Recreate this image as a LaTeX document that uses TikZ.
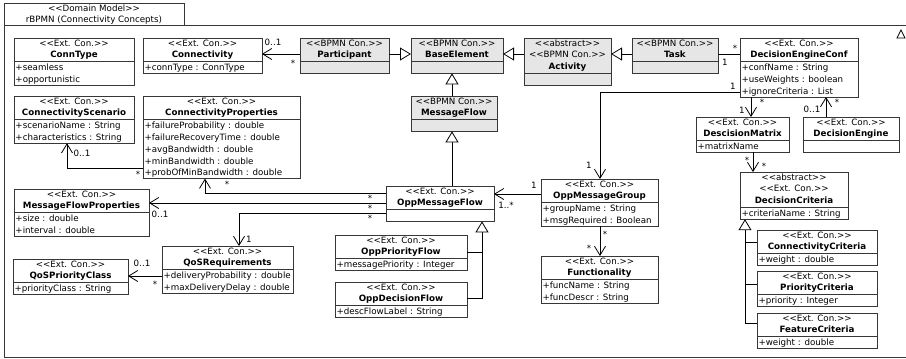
\documentclass[tikz,border=0pt]{standalone}
\usepackage{fontspec}
\newfontfamily\umlfont{DejaVu Sans}
\usetikzlibrary{arrows.meta}
\definecolor{bpmn}{RGB}{230,230,230}
\definecolor{boxline}{RGB}{55,55,55}

\tikzset{
  txt/.style={inner sep=0pt, outer sep=0pt, text=black,
    font=\umlfont\fontsize{8.7}{11.8}\selectfont},
  classbox/.style={draw=boxline, line width=1pt, rectangle, inner sep=0pt, outer sep=0pt},
  classsep/.style={draw=boxline, line width=1pt},
  frameline/.style={draw=boxline, line width=1pt},
  conn/.style={draw=black, line width=0.8pt},
  assoc/.style={conn, -{Straight Barb[length=9pt, width=11pt, line width=0.8pt]}},
  gen/.style={conn, -{Triangle[length=11pt, width=13pt, fill=white, line width=0.8pt]}},
  mlabel/.style={txt, anchor=center}
}

% \umlclass{name}{x}{top}{width}{fill}{#header lines}{#attribute lines}{header}{attributes}
\newcommand\umlclass[9]{%
  \pgfmathsetmacro\hh{11.8*#6}%
  \pgfmathsetmacro\ah{11.8*max(#7,1)}%
  \pgfmathsetmacro\th{\hh+\ah}%
  \node[classbox, fill=#5, minimum width=#4pt, minimum height=\th pt, anchor=north west] (#1) at (#2,#3) {};
  \draw[classsep] (#2,#3+\hh) -- ++(#4,0);
  \foreach \t [count=\i] in {#8} {
    \node[txt, anchor=base] (#1-h\i) at (#2+#4/2, #3+8+11.8*\i-11.8) {\t};
  }
  \ifnum#7>0
    \foreach \t [count=\i] in {#9} {
      \node[txt, anchor=base west] (#1-a\i) at (#2+1.5, #3+\hh+9+11.8*\i-11.8) {\t};
    }
  \fi
}
\newcommand\mult[4]{\node[mlabel] (#1) at (#2,#3) {#4};}

\begin{document}
\begin{tikzpicture}[x=1pt, y=-1pt]
\useasboundingbox (0,0) rectangle (906,359);
\fill[white] (0,0) rectangle (906,359);

% package frame with its name tab
\draw[frameline] (4,25) rectangle (910,357);
\node[classbox, fill=white, minimum width=180pt, minimum height=22pt, anchor=north west] (tab) at (4,3) {};
\node[txt, anchor=base] (tab-1) at (94,11) {<<Domain Model>>};
\node[txt, anchor=base] (tab-2) at (94,22.5) {rBPMN (Connectivity Concepts)};
\draw[conn, line width=0.7pt] (897,38) -- (905,38) -- (901,30) -- cycle;

% classes
\umlclass{conntype}{14}{38}{120}{white}{2}{2}{<<Ext. Con.>>,\textbf{ConnType}}{+seamless,+opportunistic}
\umlclass{connty}{143}{38}{119}{white}{2}{1}{<<Ext. Con.>>,\textbf{Connectivity}}{+connType : ConnType}
\umlclass{part}{300}{38}{89}{bpmn}{2}{0}{<<BPMN Con.>>,\textbf{Participant}}{}
\umlclass{base}{411}{38}{92}{bpmn}{2}{0}{<<BPMN Con.>>,\textbf{BaseElement}}{}
\umlclass{act}{524}{38}{87}{bpmn}{3}{0}{<<abstract>>,<<BPMN Con.>>,\textbf{Activity}}{}
\umlclass{task}{632}{38}{86}{bpmn}{2}{0}{<<BPMN Con.>>,\textbf{Task}}{}
\umlclass{dec}{740}{38}{118}{white}{2}{3}{<<Ext. Con.>>,\textbf{DecisionEngineConf}}{+confName : String,+useWeights : boolean,+ignoreCriteria : List}
\umlclass{mf}{411}{96}{86}{bpmn}{2}{0}{<<BPMN Con.>>,\textbf{MessageFlow}}{}
\umlclass{cs}{14}{96}{120}{white}{2}{2}{<<Ext. Con.>>,\textbf{ConnectivityScenario}}{+scenarioName : String,+characteristics : String}
\umlclass{cp}{143}{96}{157}{white}{2}{5}{<<Ext. Con.>>,\textbf{ConnectivityProperties}}{+failureProbability : double,+failureRecoveryTime : double,+avgBandwidth : double,+minBandwidth : double,+probOfMinBandwidth : double}
\umlclass{dm}{696}{117}{93}{white}{2}{1}{<<Ext. Con.>>,\textbf{DescisionMatrix}}{+matrixName}
\umlclass{de}{803}{117}{96}{white}{2}{0}{<<Ext. Con.>>,\textbf{DecisionEngine}}{}
\umlclass{dc}{740}{172}{108}{white}{3}{1}{<<abstract>>,<<Ext. Con.>>,\textbf{DecisionCriteria}}{+criteriaName : String}
\umlclass{mfp}{14}{189}{135}{white}{2}{2}{<<Ext. Con.>>,\textbf{MessageFlowProperties}}{+size : double,+interval : double}
\umlclass{omf}{386}{186}{108}{white}{2}{0}{<<Ext. Con.>>,\textbf{OppMessageFlow}}{}
\umlclass{omg}{541}{179}{117}{white}{2}{2}{<<Ext. Con.>>,\textbf{OppMessageGroup}}{+groupName : String,+msgRequired : Boolean}
\umlclass{qos}{162}{246}{131}{white}{2}{2}{<<Ext. Con.>>,\textbf{QoSRequirements}}{+deliveryProbability : double,+maxDeliveryDelay : double}
\umlclass{qpc}{13}{259}{115}{white}{2}{1}{<<Ext. Con.>>,\textbf{QoSPriorityClass}}{+priorityClass : String}
\umlclass{opf}{335}{235}{132}{white}{2}{1}{<<Ext. Con.>>,\textbf{OppPriorityFlow}}{+messagePriority : Integer}
\umlclass{odf}{335}{282}{132}{white}{2}{1}{<<Ext. Con.>>,\textbf{OppDecisionFlow}}{+descFlowLabel : String}
\umlclass{func}{541}{256}{117}{white}{2}{2}{<<Ext. Con.>>,\textbf{Functionality}}{+funcName : String,+funcDescr : String}
\umlclass{cc}{757}{230}{120}{white}{2}{1}{<<Ext. Con.>>,\textbf{ConnectivityCriteria}}{+weight : double}
\umlclass{pc}{757}{271}{120}{white}{2}{1}{<<Ext. Con.>>,\textbf{PriorityCriteria}}{+priority : Integer}
\umlclass{fc}{757}{313}{120}{white}{2}{1}{<<Ext. Con.>>,\textbf{FeatureCriteria}}{+weight : double}

% routing points
\coordinate (y54) at (0,54);
\coordinate (x452) at (452,0);
\coordinate (k1) at (600,92);
\coordinate (x751) at (751,0);
\coordinate (x826) at (826,0);
\coordinate (x753) at (753,0);
\coordinate (k2) at (67,168);
\coordinate (k3) at (205,193);
\coordinate (y203) at (0,203);
\coordinate (k4) at (239,213);
\coordinate (y276) at (0,276);
\coordinate (y194) at (0,194);
\coordinate (b1) at (482,252);
\coordinate (t1) at (482,298);
\coordinate (d1) at (745,242);
\coordinate (d2) at (745,284);
\coordinate (d0) at (745,323);

% top row
\draw[assoc] (part.west |- y54) -- (connty.east |- y54);
\draw[gen] (part.east |- y54) -- (base.west |- y54);
\draw[gen] (act.west |- y54) -- (base.east |- y54);
\draw[gen] (task.west |- y54) -- (act.east |- y54);
\draw[conn] (task.east |- y54) -- (dec.west |- y54);

% message flow hierarchy
\draw[gen] (mf.north -| x452) -- (base.south -| x452);
\draw[gen] (omf.north -| x452) -- (mf.south -| x452);
\draw[conn] (opf.east |- b1) -- (b1);
\draw[gen] (odf.east |- t1) -- (t1) -- (omf.south -| t1);

% decision engine
\draw[assoc] (dec.west |- k1) -- (k1) -- (omg.north -| k1);
\draw[assoc] (dec.south -| x751) -- (dm.north -| x751);
\draw[assoc] (de.north -| x826) -- (dec.south -| x826);
\draw[assoc] (dm.south -| x753) -- (dc.north -| x753);
\draw[conn] (cc.west |- d1) -- (d1);
\draw[conn] (pc.west |- d2) -- (d2);
\draw[gen] (fc.west |- d0) -- (d0) -- (dc.south -| d0);

% connectivity and QoS
\draw[assoc] (cp.west |- k2) -- (k2) -- (cs.south -| k2);
\draw[assoc] (omf.west |- k3) -- (k3) -- (cp.south -| k3);
\draw[assoc] (omf.west |- y203) -- (mfp.east |- y203);
\draw[assoc] (omf.west |- k4) -- (k4) -- (qos.north -| k4);
\draw[assoc] (qos.west |- y276) -- (qpc.east |- y276);
\draw[assoc] (omg.west |- y194) -- (omf.east |- y194);
\draw[assoc] (omg.south -| k1) -- (func.north -| k1);

% multiplicities
\mult{m1}{273}{42}{0..1}
\mult{m2}{293}{63.5}{*}
\mult{m3}{735}{48.5}{*}
\mult{m4}{725}{62}{1}
\mult{m5}{733}{86}{1}
\mult{m6}{589}{165}{1}
\mult{m7}{742}{110}{1}
\mult{m8}{762}{102.5}{*}
\mult{m9}{812}{109}{0..1}
\mult{m10}{837}{102.5}{*}
\mult{m11}{747}{160.5}{*}
\mult{m12}{764}{166.5}{*}
\mult{m13}{82}{153}{0..1}
\mult{m14}{138}{174.5}{*}
\mult{m15}{227}{184.5}{*}
\mult{m16}{370}{198.5}{*}
\mult{m17}{160}{214}{0..1}
\mult{m18}{370}{208.5}{*}
\mult{m19}{249}{239}{1}
\mult{m20}{370}{218.5}{*}
\mult{m21}{142}{263}{0..1}
\mult{m22}{155}{284.5}{*}
\mult{m23}{534}{185}{1}
\mult{m24}{506}{205}{1..*}
\mult{m25}{605}{234.5}{*}
\mult{m26}{589}{248.5}{*}
\end{tikzpicture}
\end{document}
